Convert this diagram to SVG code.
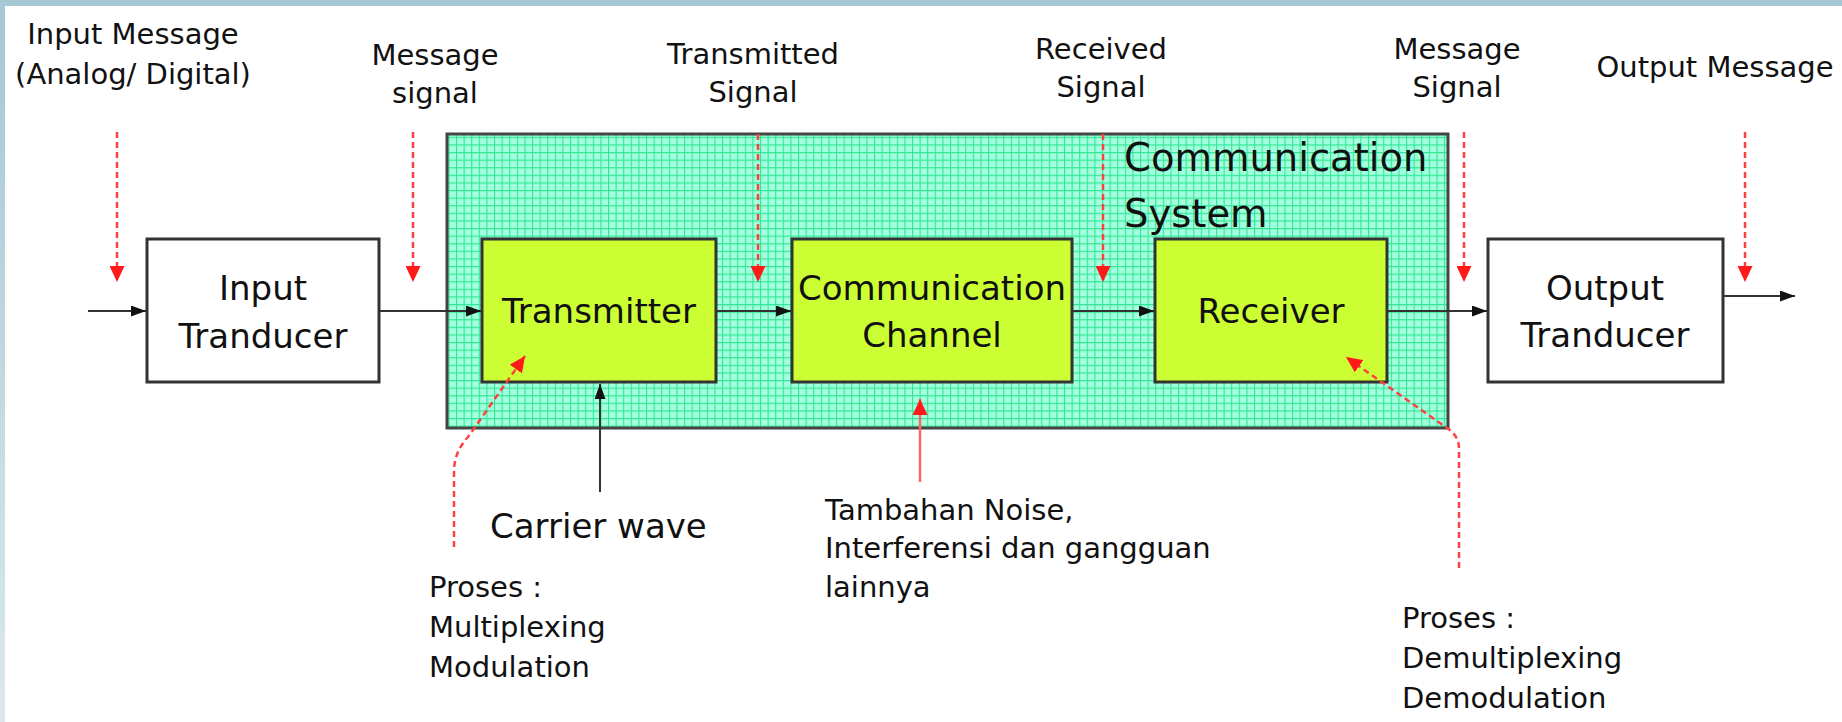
<svg xmlns="http://www.w3.org/2000/svg" width="1842" height="722" viewBox="0 0 1842 722">
<style>
.t{font-family:"DejaVu Sans","Liberation Sans",sans-serif;fill:#111}
.s{font-size:29px}
.b{font-size:34px}
.m{text-anchor:middle}
.box{stroke:#333;stroke-width:3}
.w{fill:#fff}
.y{fill:#ccff33}
.k{fill:none;stroke:#333;stroke-width:2}
.rd{fill:none;stroke:#ff4040;stroke-width:2.5;stroke-dasharray:6 4}
.rs{fill:none;stroke:#ff6464;stroke-width:2.5}
</style>
<defs>
<linearGradient id="lg" x1="0" y1="0" x2="0" y2="1">
<stop offset="0" stop-color="#a6c7d3"/>
<stop offset="1" stop-color="#dbe8ee"/>
</linearGradient>
<pattern id="grid" width="7.6" height="7.6" patternUnits="userSpaceOnUse">
<rect width="7.6" height="7.6" fill="#a4ffde"/>
<path d="M0,0H7.6M0,0V7.6" stroke="#2fe795" stroke-width="2.2"/>
</pattern>
<marker id="ak" markerUnits="userSpaceOnUse" markerWidth="15" markerHeight="11" refX="15" refY="5.5" orient="auto">
<path d="M0,0L15,5.5L0,11z" fill="#111"/>
</marker>
<marker id="ar" markerUnits="userSpaceOnUse" markerWidth="16" markerHeight="15" refX="16" refY="7.5" orient="auto">
<path d="M0,0L16,7.5L0,15z" fill="#ff1a1a"/>
</marker>
</defs>
<rect width="1842" height="722" fill="#fff"/>
<rect x="0" y="0" width="1842" height="6" fill="#a6c8d4"/>
<rect x="0" y="0" width="5" height="722" fill="url(#lg)"/>

<g id="communication-system">
<rect x="447" y="134" width="1001" height="294" fill="url(#grid)" stroke="#444" stroke-width="3"/>
<text class="t" x="1124" y="171" font-size="38.5">Communication</text>
<text class="t" x="1124" y="227" font-size="38.5">System</text>
</g>

<g id="input-tranducer">
<rect class="box w" x="147" y="239" width="232" height="143"/>
<text class="t b m" x="263" y="300">Input</text>
<text class="t b m" x="263" y="348">Tranducer</text>
</g>

<g id="transmitter">
<rect class="box y" x="482" y="239" width="234" height="143"/>
<text class="t b m" x="599" y="323">Transmitter</text>
</g>

<g id="communication-channel">
<rect class="box y" x="792" y="239" width="280" height="143"/>
<text class="t b m" x="932" y="300">Communication</text>
<text class="t b m" x="932" y="347">Channel</text>
</g>

<g id="receiver">
<rect class="box y" x="1155" y="239" width="232" height="143"/>
<text class="t b m" x="1271" y="323">Receiver</text>
</g>

<g id="output-tranducer">
<rect class="box w" x="1488" y="239" width="235" height="143"/>
<text class="t b m" x="1605" y="300">Output</text>
<text class="t b m" x="1605" y="347">Tranducer</text>
</g>

<g id="labels">
<text class="t s m" x="133" y="44">Input Message</text>
<text class="t s m" x="133" y="84">(Analog/ Digital)</text>
<text class="t s m" x="435" y="65">Message</text>
<text class="t s m" x="435" y="103">signal</text>
<text class="t s m" x="753" y="64">Transmitted</text>
<text class="t s m" x="753" y="102">Signal</text>
<text class="t s m" x="1101" y="59">Received</text>
<text class="t s m" x="1101" y="97">Signal</text>
<text class="t s m" x="1457" y="59">Message</text>
<text class="t s m" x="1457" y="97">Signal</text>
<text class="t s m" x="1715" y="77">Output Message</text>
<text class="t b" x="490" y="538">Carrier wave</text>
<text class="t s" x="825" y="520">Tambahan Noise,</text>
<text class="t s" x="825" y="558">Interferensi dan gangguan</text>
<text class="t s" x="825" y="597">lainnya</text>
<text class="t s" x="429" y="597">Proses :</text>
<text class="t s" x="429" y="637">Multiplexing</text>
<text class="t s" x="429" y="677">Modulation</text>
<text class="t s" x="1402" y="628">Proses :</text>
<text class="t s" x="1402" y="668">Demultiplexing</text>
<text class="t s" x="1402" y="708">Demodulation</text>
</g>

<g id="connectors">
<path class="k" d="M88,311H146" marker-end="url(#ak)"/>
<path class="k" d="M380,311H481" marker-end="url(#ak)"/>
<path class="k" d="M717,311H791" marker-end="url(#ak)"/>
<path class="k" d="M1073,311H1154" marker-end="url(#ak)"/>
<path class="k" d="M1388,311H1487" marker-end="url(#ak)"/>
<path class="k" d="M1724,296H1795" marker-end="url(#ak)"/>
<path class="k" d="M600,492V384" marker-end="url(#ak)"/>
<path class="rd" d="M117,132V282" marker-end="url(#ar)"/>
<path class="rd" d="M413,132V282" marker-end="url(#ar)"/>
<path class="rd" d="M758,134V282" marker-end="url(#ar)"/>
<path class="rd" d="M1103,134V282" marker-end="url(#ar)"/>
<path class="rd" d="M1464,132V282" marker-end="url(#ar)"/>
<path class="rd" d="M1745,132V282" marker-end="url(#ar)"/>
<path class="rd" d="M454,547V472Q454,452 468,437L525,356" marker-end="url(#ar)"/>
<path class="rd" d="M1459,568V448Q1459,436 1447,428L1346,357" marker-end="url(#ar)"/>
<path class="rs" d="M920,482V399" marker-end="url(#ar)"/>
</g>
</svg>
